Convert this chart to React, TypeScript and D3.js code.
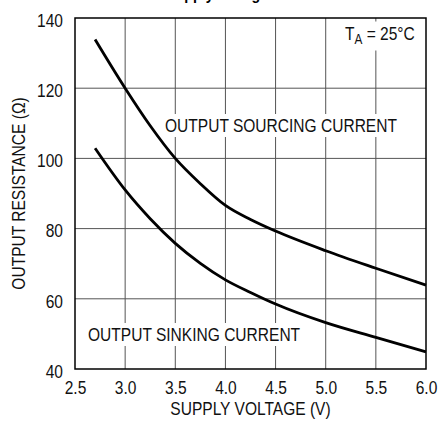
import { useEffect, useRef } from "react";
import * as d3 from "d3";

const voltage = [2.7, 3.0, 3.25, 3.5, 3.75, 4.0, 4.25, 4.5, 5.0, 5.5, 6.0];
const sourcing = [133.9, 120, 109.3, 100, 92.8, 86.6, 82.6, 79.3, 73.7, 68.7, 63.9];
const sinking = [102.9, 91.0, 82.8, 75.8, 70.1, 65.4, 61.8, 58.5, 53.2, 49.0, 44.9];
const xTicks = [2.5, 3.0, 3.5, 4.0, 4.5, 5.0, 5.5, 6.0];
const yTicks = [40, 60, 80, 100, 120, 140];

const FONT = "'Liberation Sans', Arial, sans-serif";
const FS = 18.5;
const SQUEEZE = 0.84; // fake a condensed face

function condense(sel: d3.Selection<any, any, any, any>, k = SQUEEZE) {
  sel.each(function () {
    const t = this as SVGTextElement;
    const w = t.getComputedTextLength();
    t.setAttribute("textLength", String(w * k));
    t.setAttribute("lengthAdjust", "spacingAndGlyphs");
  });
}

export default function App() {
  const svgRef = useRef<SVGSVGElement>(null);

  useEffect(() => {
    if (!svgRef.current) return;
    const svg = d3.select(svgRef.current);
    svg.selectAll("*").remove();

    const W = 438, H = 425;
    const margin = { top: 18, right: 12, bottom: 56, left: 75 };
    const x = d3.scaleLinear().domain([2.5, 6.0]).range([margin.left, W - margin.right]);
    const y = d3.scaleLinear().domain([40, 140]).range([H - margin.bottom, margin.top]);

    svg.append("rect").attr("width", W).attr("height", H).attr("fill", "#fff");

    // cropped title at the very top
    svg.append("text")
      .attr("x", 166).attr("y", 0)
      .attr("font-family", FONT).attr("font-weight", "bold").attr("font-size", 17)
      .text("Supply Voltage")
      .call(condense);

    const g = svg.append("g");

    // grid
    g.selectAll(".vgrid").data(xTicks.slice(1, -1)).enter().append("line")
      .attr("x1", (d) => x(d)).attr("x2", (d) => x(d))
      .attr("y1", y(40)).attr("y2", y(140))
      .attr("stroke", "#555").attr("stroke-width", 1);
    g.selectAll(".hgrid").data(yTicks.slice(1, -1)).enter().append("line")
      .attr("x1", x(2.5)).attr("x2", x(6.0))
      .attr("y1", (d) => y(d)).attr("y2", (d) => y(d))
      .attr("stroke", "#555").attr("stroke-width", 1);

    // labels with white backing that breaks the grid
    const backing = (t: d3.Selection<SVGTextElement, unknown, null, undefined>, padB = 1) => {
      const bb = (t.node() as SVGTextElement).getBBox();
      g.insert("rect", "text")
        .attr("x", bb.x - 3).attr("y", bb.y - 1)
        .attr("width", bb.width + 6).attr("height", bb.height + 1 + padB)
        .attr("fill", "#fff");
    };
    const label = (tx: number, ty: number, s: string) => {
      const t = g.append("text")
        .attr("x", tx).attr("y", ty)
        .attr("font-family", FONT).attr("font-size", FS).attr("fill", "#111")
        .text(s)
        .call(condense);
      backing(t as any);
    };
    label(165, 132, "OUTPUT SOURCING CURRENT");
    label(88, 341, "OUTPUT SINKING CURRENT");

    // T_A note
    const ta = g.append("text")
      .attr("x", 345).attr("y", 39.5)
      .attr("font-family", FONT).attr("font-size", FS).attr("fill", "#111");
    ta.append("tspan").text("T");
    ta.append("tspan").attr("dy", 4).attr("font-size", 14).text("A");
    ta.append("tspan").attr("dy", -4).text(" = 25°C");
    condense(ta as any);
    backing(ta as any, 4);

    // curves
    const line = d3.line<number>()
      .x((_, i) => x(voltage[i]))
      .y((d) => y(d))
      .curve(d3.curveMonotoneX);
    [sourcing, sinking].forEach((s) => {
      g.append("path")
        .attr("d", line(s) ?? "")
        .attr("fill", "none")
        .attr("stroke", "#000")
        .attr("stroke-width", 2.8);
    });

    // frame
    g.append("rect")
      .attr("x", x(2.5)).attr("y", y(140))
      .attr("width", x(6.0) - x(2.5)).attr("height", y(40) - y(140))
      .attr("fill", "none").attr("stroke", "#000").attr("stroke-width", 1.5);

    // axes
    g.append("g")
      .attr("transform", `translate(0,${y(40)})`)
      .call(d3.axisBottom(x).tickValues(xTicks).tickFormat(d3.format(".1f")).tickSize(0).tickPadding(12))
      .call((ax) => ax.select(".domain").remove())
      .selectAll<SVGTextElement, number>("text")
      .attr("font-family", FONT).attr("font-size", FS).attr("fill", "#111")
      .call(condense);

    g.append("g")
      .attr("transform", `translate(${x(2.5)},0)`)
      .call(d3.axisLeft(y).tickValues(yTicks).tickSize(0).tickPadding(12))
      .call((ax) => ax.select(".domain").remove())
      .selectAll<SVGTextElement, number>("text")
      .attr("font-family", FONT).attr("font-size", FS).attr("fill", "#111").attr("dy", "0.45em")
      .call(condense);

    svg.append("text")
      .attr("x", (x(2.5) + x(6.0)) / 2).attr("y", 415)
      .attr("text-anchor", "middle")
      .attr("font-family", FONT).attr("font-size", FS).attr("fill", "#111")
      .text("SUPPLY VOLTAGE (V)")
      .call(condense);

    svg.append("text")
      .attr("transform", `translate(25,${(y(40) + y(140)) / 2}) rotate(-90)`)
      .attr("text-anchor", "middle")
      .attr("font-family", FONT).attr("font-size", FS).attr("fill", "#111")
      .text("OUTPUT RESISTANCE (Ω)")
      .call(condense);
  }, []);

  return (
    <svg
      ref={svgRef}
      width={438}
      height={425}
      style={{ position: "absolute", left: 0, top: 0 }}
    />
  );
}
